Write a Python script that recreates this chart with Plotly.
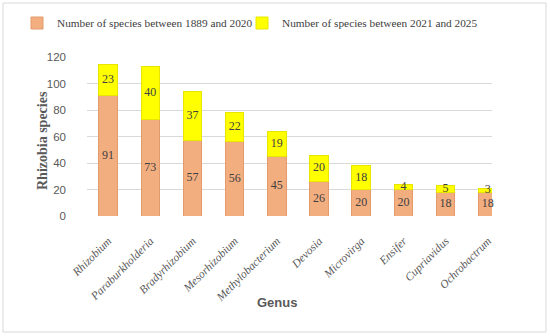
import plotly.graph_objects as go

genus = ["Rhizobium", "Paraburkholderia", "Bradyrhizobium", "Mesorhizobium",
         "Methylobacterium", "Devosia", "Microvirga", "Ensifer",
         "Cupriavidus", "Ochrobactrum"]
species_1889_2020 = [91, 73, 57, 56, 45, 26, 20, 20, 18, 18]
species_2021_2025 = [23, 40, 37, 22, 19, 20, 18, 4, 5, 3]
y_ticks = [0, 20, 40, 60, 80, 100, 120]

ORANGE = "#F3AE80"
ORANGE_EDGE = "#E39A6C"
YELLOW = "#FFFF00"
YELLOW_EDGE = "#E8E600"
LABEL_COLOR = "#404040"
AXIS_TEXT = "#595959"
SERIF = "Liberation Serif, Times New Roman, serif"
SANS = "Liberation Sans, Arial, sans-serif"

W, H = 550, 336
PLOT_W = 405
PLOT_H = 159
M_L, M_T = 87, 57


def px_x(px):
    return (px - M_L) / PLOT_W


def px_y(py):
    return 1 + (M_T - py) / PLOT_H


fig = go.Figure()
fig.add_trace(go.Bar(
    x=genus, y=species_1889_2020, name="Number of species between 1889 and 2020",
    marker=dict(color=ORANGE, line=dict(width=1, color=ORANGE_EDGE)),
    legend="legend", cliponaxis=False,
))
fig.add_trace(go.Bar(
    x=genus, y=species_2021_2025, name="Number of species between 2021 and 2025",
    marker=dict(color=YELLOW, line=dict(width=1, color=YELLOW_EDGE)),
    legend="legend2", cliponaxis=False,
))

# value labels at segment midpoints
mid1 = [v / 2 for v in species_1889_2020]
mid2 = [a + b / 2 for a, b in zip(species_1889_2020, species_2021_2025)]
fig.add_trace(go.Scatter(
    x=genus + genus, y=mid1 + mid2, mode="text",
    text=[str(v) for v in species_1889_2020 + species_2021_2025],
    textfont=dict(family=SERIF, size=12, color=LABEL_COLOR),
    showlegend=False, hoverinfo="skip", cliponaxis=False,
))

legend_font = dict(family=SERIF, size=11.3, color="#404040")
fig.update_layout(
    width=W, height=H,
    barmode="stack", bargap=0.56,
    paper_bgcolor="white", plot_bgcolor="white",
    margin=dict(l=M_L, r=W - M_L - PLOT_W, t=M_T, b=H - M_T - PLOT_H, autoexpand=False),
    legend=dict(
        orientation="v", x=17 / W, xanchor="left", xref="container",
        y=1 - 23 / H, yanchor="middle", yref="container",
        font=legend_font, itemwidth=30, bgcolor="rgba(0,0,0,0)",
    ),
    legend2=dict(
        orientation="v", x=242 / W, xanchor="left", xref="container",
        y=1 - 23 / H, yanchor="middle", yref="container",
        font=legend_font, itemwidth=30, bgcolor="rgba(0,0,0,0)",
    ),
    xaxis=dict(
        range=[-0.5, 9.1], tickangle=-45, showgrid=False, showline=False,
        tickfont=dict(family=SERIF, size=11.5, color=AXIS_TEXT, style="italic"),
        ticks="", ticklabelstandoff=15, automargin=False,
    ),
    yaxis=dict(
        range=[0, 120], tickvals=y_ticks, showgrid=True, gridcolor="#D9D9D9", gridwidth=1,
        zeroline=False, showline=False,
        tickfont=dict(family=SANS, size=11.5, color=AXIS_TEXT),
        ticks="", ticklabelstandoff=20, automargin=False,
    ),
    annotations=[
        dict(text="<b>Rhizobia species</b>", xref="paper", yref="paper",
             x=px_x(42), y=px_y(141), textangle=-90, showarrow=False,
             xanchor="center", yanchor="middle",
             font=dict(family=SERIF, size=14, color=AXIS_TEXT)),
        dict(text="<b>Genus</b>", xref="paper", yref="paper",
             x=px_x(277), y=px_y(302), showarrow=False,
             xanchor="center", yanchor="middle",
             font=dict(family=SANS, size=13, color=AXIS_TEXT)),
    ],
)
fig.add_shape(type="rect", xref="paper", yref="paper",
              x0=px_x(3), x1=px_x(546), y0=px_y(332), y1=px_y(3),
              line=dict(color="#D9D9D9", width=1), layer="below")

fig.write_html("out.html",
               config={"displayModeBar": False},
               post_script="document.body.style.margin='0';document.body.style.overflow='hidden';")
